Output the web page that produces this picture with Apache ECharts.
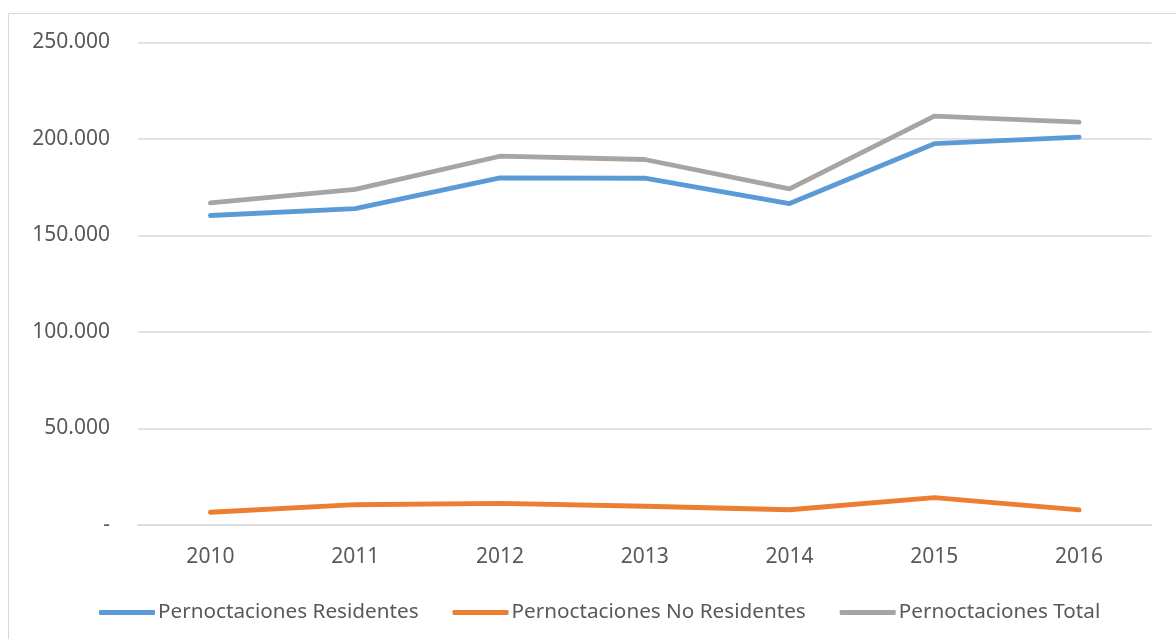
<!DOCTYPE html>
<html><head><meta charset="utf-8">
<script src="https://cdn.jsdelivr.net/npm/echarts@6/dist/echarts.min.js"></script>
<style>html,body{margin:0;padding:0;background:#fff}#c{width:1176px;height:639px}</style>
</head><body><div id="c"></div>
<script>
const years = ['2010','2011','2012','2013','2014','2015','2016'];
const residentes = [160300, 163900, 179800, 179600, 166500, 197500, 200900];
const noResidentes = [6600, 10500, 11200, 9700, 7900, 14200, 7800];
const total = [166800, 173800, 191000, 189300, 174100, 211800, 208700];
const seriesNames = ['Pernoctaciones Residentes','Pernoctaciones No Residentes','Pernoctaciones Total'];
const colors = ['#5B9BD5','#ED7D31','#A5A5A5'];
const font = 'Noto Sans';
function fmt(v){ if(v===0) return '-'; return String(v).replace(/\B(?=(\d{3})+(?!\d))/g,'.'); }
const chart = echarts.init(document.getElementById('c'));
const mk = (name, data, color) => ({
  name, type:'line', data, symbol:'none', smooth:false,
  lineStyle:{color, width:4.8, cap:'round', join:'round'}, itemStyle:{color}
});
chart.setOption({
  animation:false,
  color: colors,
  graphic:[{type:'rect', shape:{x:8.5,y:13.5,width:1200,height:640}, style:{fill:null, stroke:'#d9d9d9', lineWidth:1}, silent:true}],
  grid:{left:138, right:24.5, top:42.3, bottom:114},
  legend:{bottom:16, left:99, padding:0, itemWidth:56, itemHeight:5, itemGap:34,
    icon:'roundRect',
    textStyle:{color:'#595959', fontSize:20.7, fontFamily:font, padding:[0,0,0,-2]},
    data: seriesNames},
  xAxis:{type:'category', data:years, boundaryGap:true,
    axisLine:{lineStyle:{color:'#d9d9d9', width:1.5}}, axisTick:{show:false},
    axisLabel:{color:'#595959', fontSize:21, fontFamily:font, margin:22}},
  yAxis:{type:'value', min:0, max:250000, interval:50000,
    axisLine:{show:false}, axisTick:{show:false},
    splitLine:{lineStyle:{color:'#d9d9d9', width:1.5}},
    axisLabel:{color:'#595959', fontSize:21, fontFamily:font, margin:28, formatter:fmt}},
  series:[mk(seriesNames[0], residentes, colors[0]), mk(seriesNames[1], noResidentes, colors[1]), mk(seriesNames[2], total, colors[2])]
});
</script></body></html>
